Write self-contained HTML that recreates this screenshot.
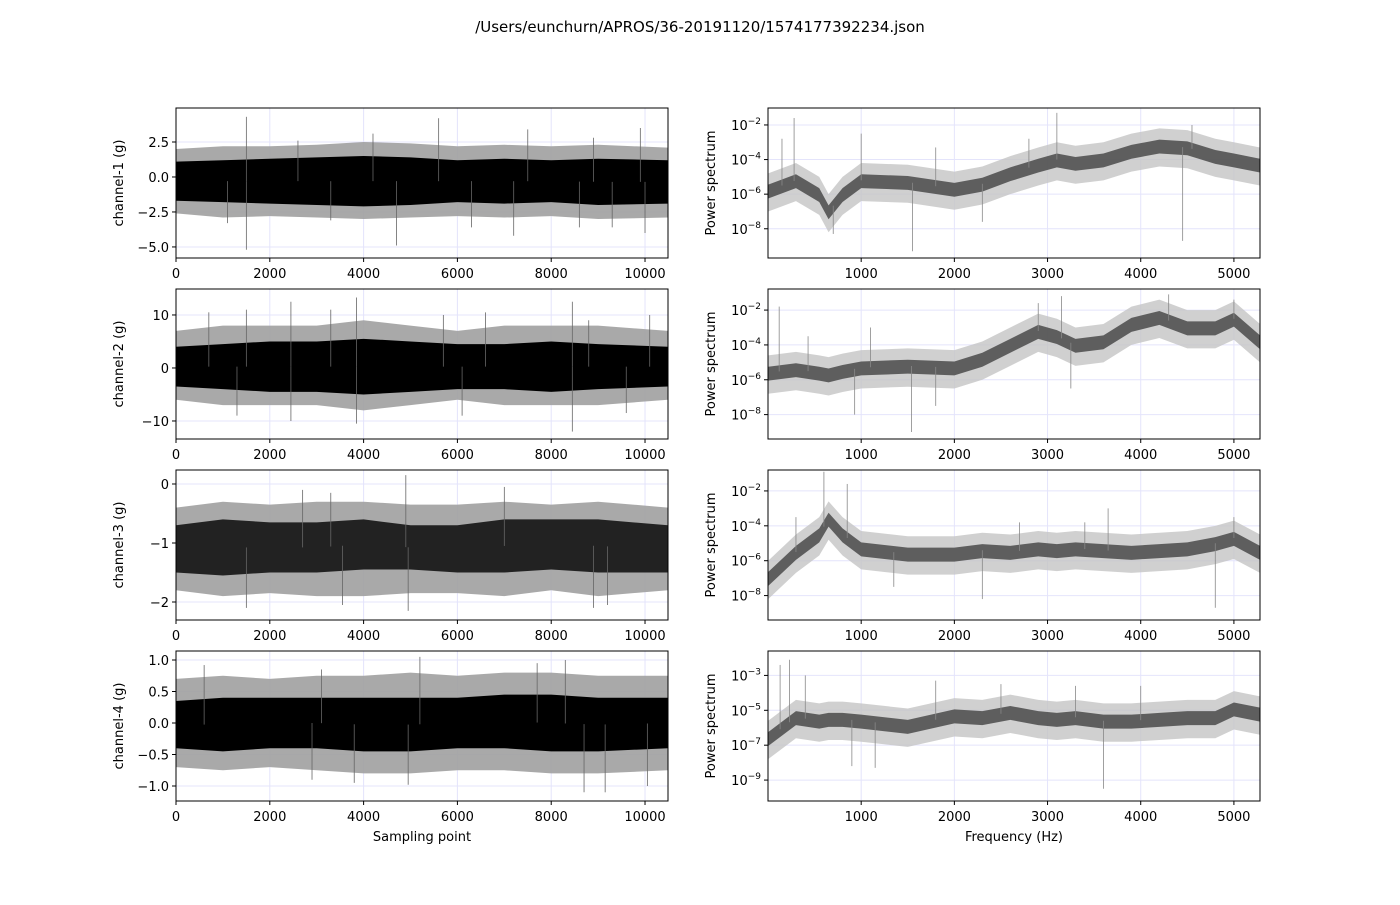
<!DOCTYPE html>
<html><head><meta charset="utf-8"><style>
body{margin:0;background:#fff;font-family:"Liberation Sans","DejaVu Sans",sans-serif}
svg text{font-family:"DejaVu Sans","Liberation Sans",sans-serif;font-size:13px;fill:#000}
</style></head><body>
<svg id="fig" width="1400" height="900" xmlns="http://www.w3.org/2000/svg">
<rect width="1400" height="900" fill="#fff"/>
<text x="700" y="32" text-anchor="middle" style="font-size:15px">/Users/eunchurn/APROS/36-20191120/1574177392234.json</text>
</svg>
<script>
// ---- time-domain data (envelopes) ----
const tX = [0,1000,2000,3000,4000,5000,6000,7000,8000,9000,10490];
const ch1OutHi = [2.0,2.2,2.2,2.3,2.5,2.4,2.2,2.3,2.2,2.3,2.1];
const ch1OutLo = [-2.6,-2.9,-2.8,-2.9,-3.0,-2.9,-2.8,-2.9,-2.8,-3.0,-2.9];
const ch1InHi = [1.1,1.2,1.3,1.4,1.5,1.4,1.2,1.3,1.2,1.3,1.2];
const ch1InLo = [-1.7,-1.8,-1.9,-2.0,-2.1,-2.0,-1.8,-1.9,-1.8,-2.0,-1.9];
const ch1Spikes = [[1500,4.3],[1500,-5.2],[4700,-4.9],[5600,4.2],[7500,3.4],[9900,3.5],[4200,3.1],[7200,-4.2],[10000,-4.0],[1100,-3.3],[2600,2.6],[3300,-3.1],[6300,-3.6],[8600,-3.6],[9300,-3.6],[8900,2.8]];
const ch2OutHi = [7,8,8,8,9,8,7,8,8,8,7];
const ch2OutLo = [-6,-7,-7,-7,-8,-7,-6,-7,-7,-7,-6];
const ch2InHi = [4,4.5,5,5,5.5,5,4.5,4.5,5,4.5,4];
const ch2InLo = [-3.5,-4,-4.5,-4.5,-5,-4.5,-4,-4,-4.5,-4,-3.5];
const ch2Spikes = [[3850,13.3],[3850,-10.5],[8450,12.5],[8450,-12],[2450,12.5],[2450,-10],[1500,11],[5700,10],[8800,9],[700,10.5],[3300,11],[6600,10.5],[10100,10],[1300,-9],[6100,-9],[9600,-8.5]];
const ch3OutHi = [-0.4,-0.3,-0.35,-0.3,-0.3,-0.35,-0.35,-0.3,-0.35,-0.3,-0.4];
const ch3OutLo = [-1.8,-1.9,-1.85,-1.9,-1.9,-1.85,-1.85,-1.9,-1.8,-1.9,-1.8];
const ch3InHi = [-0.7,-0.6,-0.65,-0.65,-0.6,-0.7,-0.7,-0.6,-0.6,-0.6,-0.7];
const ch3InLo = [-1.5,-1.55,-1.5,-1.5,-1.45,-1.45,-1.5,-1.5,-1.45,-1.5,-1.5];
const ch3Spikes = [[4900,0.15],[1500,-2.1],[3550,-2.05],[4950,-2.15],[8900,-2.1],[9200,-2.05],[2700,-0.1],[7000,-0.05],[3300,-0.15]];
const ch4OutHi = [0.7,0.75,0.7,0.75,0.75,0.8,0.75,0.8,0.8,0.75,0.75];
const ch4OutLo = [-0.7,-0.75,-0.7,-0.75,-0.8,-0.8,-0.75,-0.75,-0.8,-0.8,-0.75];
const ch4InHi = [0.35,0.4,0.4,0.4,0.4,0.4,0.4,0.45,0.45,0.4,0.4];
const ch4InLo = [-0.4,-0.45,-0.4,-0.4,-0.45,-0.45,-0.4,-0.4,-0.45,-0.45,-0.4];
const ch4Spikes = [[5200,1.05],[8300,1.0],[8700,-1.1],[9150,-1.1],[4950,-0.98],[10050,-1.0],[600,0.92],[3100,0.85],[7700,0.95],[2900,-0.9],[3800,-0.95]];
// ---- spectra data (log10 power) ----
const fX = [2,300,550,650,800,1000,1500,2000,2300,2600,2900,3100,3300,3600,3900,4200,4500,4800,5000,5280];
const s1Mid = [-5.8,-5.2,-6.0,-7.0,-6.0,-5.2,-5.3,-5.7,-5.4,-4.8,-4.3,-4.0,-4.2,-4.0,-3.5,-3.2,-3.3,-3.8,-4.0,-4.3];
const s2Mid = [-5.6,-5.4,-5.6,-5.7,-5.5,-5.3,-5.2,-5.3,-4.8,-4.0,-3.2,-3.5,-4.0,-3.8,-2.8,-2.4,-3.0,-3.0,-2.5,-3.8];
const s3Mid = [-7.0,-5.5,-4.5,-3.6,-4.5,-5.3,-5.6,-5.6,-5.4,-5.5,-5.3,-5.4,-5.3,-5.4,-5.5,-5.4,-5.3,-5.0,-4.7,-5.5];
const s4Mid = [-6.6,-5.4,-5.6,-5.5,-5.5,-5.6,-5.9,-5.3,-5.4,-5.1,-5.4,-5.5,-5.4,-5.6,-5.6,-5.5,-5.4,-5.4,-4.9,-5.2];
const s1Spikes = [[280,-1.6],[1000,-2.5],[3100,-1.3],[4550,-2.0],[700,-8.3],[1550,-9.3],[4450,-8.7],[150,-2.8],[1800,-3.3],[2300,-7.6],[2800,-2.8]];
const s2Spikes = [[120,-1.8],[430,-3.5],[3150,-1.2],[4300,-1.1],[1540,-9.0],[1800,-7.5],[3250,-6.5],[1100,-3],[2900,-1.6],[5000,-1.4],[930,-8]];
const s3Spikes = [[600,-0.9],[850,-1.6],[1350,-7.5],[3400,-3.8],[3650,-3.0],[4800,-8.7],[2300,-8.2],[300,-3.5],[2700,-3.8],[5000,-3.5]];
const s4Spikes = [[130,-2.4],[230,-2.1],[1800,-3.3],[3600,-9.5],[4000,-3.6],[1150,-8.3],[400,-3],[2500,-3.5],[3300,-3.6],[900,-8.2]];

const NS='http://www.w3.org/2000/svg';
const svg=document.getElementById('fig');
function el(t,a,p){const e=document.createElementNS(NS,t);for(const k in a)e.setAttribute(k,a[k]);(p||svg).appendChild(e);return e;}
const rows=[108,289,470,651], H=150;
const L={x0:176,x1:668,d0:0,d1:10490}, R={x0:768,x1:1260,d0:0,d1:5280};
function sx(ax,v){return ax.x0+(v-ax.d0)/(ax.d1-ax.d0)*(ax.x1-ax.x0);}
function band(g,ax,xs,hi,lo,ys,fill,op,name){
  let pts=[];
  for(let i=0;i<xs.length;i++)pts.push(sx(ax,xs[i])+','+ys(hi[i]));
  for(let i=xs.length-1;i>=0;i--)pts.push(sx(ax,xs[i])+','+ys(lo[i]));
  const p=el('polygon',{points:pts.join(' '),fill:fill,'fill-opacity':op},g);
  
  
}
function spikes(g,ax,sp,ys,base,col){
  sp.forEach(s=>{const x=sx(ax,s[0]);
    const l=el('line',{x1:x,x2:x,y1:ys(base(s[0])),y2:ys(s[1]),stroke:col,'stroke-width':0.8},g);
    
    
  });
}
function interp(xs,ys,x){for(let i=0;i<xs.length-1;i++)if(x<=xs[i+1]){const t=(x-xs[i])/(xs[i+1]-xs[i]);return ys[i]+t*(ys[i+1]-ys[i]);}return ys[ys.length-1];}
function axesFrame(ax,top,ytickVals,ytickFn,ys,xticks,xlabelFn,ylabel,xlabel,name){
  const g=el('g',{});
  
  
  const cid='c'+name;
  const cp=el('clipPath',{id:cid},g);el('rect',{x:ax.x0,y:top,width:ax.x1-ax.x0,height:H},cp);
  const inner=el('g',{'clip-path':'url(#'+cid+')'},g);
  xticks.forEach(v=>{const x=sx(ax,v);el('line',{x1:x,x2:x,y1:top,y2:top+H,stroke:'#e4e4fb','stroke-width':1},inner);
    el('line',{x1:x,x2:x,y1:top+H,y2:top+H+4,stroke:'#000'},g);
    const t=el('text',{x:x,y:top+H+20,'text-anchor':'middle'},g);t.textContent=xlabelFn(v);
    
    });
  ytickVals.forEach(v=>{const y=ys(v);el('line',{x1:ax.x0,x2:ax.x1,y1:y,y2:y,stroke:'#e4e4fb','stroke-width':1},inner);
    el('line',{x1:ax.x0-4,x2:ax.x0,y1:y,y2:y,stroke:'#000'},g);
    const t=el('text',{x:ax.x0-7,y:y+5,'text-anchor':'end'},g);ytickFn(t,v);
    
    });
  const yl=el('text',{x:0,y:0,'text-anchor':'middle',transform:'translate('+(ax.x0-53)+','+(top+H/2)+') rotate(-90)'},g);yl.textContent=ylabel;
  
  
  if(xlabel){const xl=el('text',{x:(ax.x0+ax.x1)/2,y:top+H+40,'text-anchor':'middle'},g);xl.textContent=xlabel;
    
    }
  return {g,inner};
}
function border(g,ax,top){el('rect',{x:ax.x0,y:top,width:ax.x1-ax.x0,height:H,fill:'none',stroke:'#000','stroke-width':1},g);}
const timeSets=[
 {hi:ch1OutHi,lo:ch1OutLo,ih:ch1InHi,il:ch1InLo,sp:ch1Spikes,ymin:-5.79,ymax:4.93,ticks:[-5,-2.5,0,2.5],fmt:v=>v.toFixed(1).replace('-','−')},
 {hi:ch2OutHi,lo:ch2OutLo,ih:ch2InHi,il:ch2InLo,sp:ch2Spikes,ymin:-13.4,ymax:14.9,ticks:[-10,0,10],fmt:v=>String(v).replace('-','−')},
 {hi:ch3OutHi,lo:ch3OutLo,ih:ch3InHi,il:ch3InLo,sp:ch3Spikes,ymin:-2.305,ymax:0.237,ticks:[-2,-1,0],fmt:v=>String(v).replace('-','−')},
 {hi:ch4OutHi,lo:ch4OutLo,ih:ch4InHi,il:ch4InLo,sp:ch4Spikes,ymin:-1.238,ymax:1.143,ticks:[-1,-0.5,0,0.5,1],fmt:v=>v.toFixed(1).replace('-','−')}];
const specSets=[
 {mid:s1Mid,sp:s1Spikes,lmin:-9.69,lmax:-1.02,ticks:[-8,-6,-4,-2]},
 {mid:s2Mid,sp:s2Spikes,lmin:-9.4,lmax:-0.79,ticks:[-8,-6,-4,-2]},
 {mid:s3Mid,sp:s3Spikes,lmin:-9.4,lmax:-0.8,ticks:[-8,-6,-4,-2]},
 {mid:s4Mid,sp:s4Spikes,lmin:-10.2,lmax:-1.6,ticks:[-9,-7,-5,-3]}];
rows.forEach((top,i)=>{
  const d=timeSets[i];
  const ys=v=>top+H-(v-d.ymin)/(d.ymax-d.ymin)*H;
  const a=axesFrame(L,top,d.ticks,(t,v)=>{t.textContent=d.fmt(v);},ys,[0,2000,4000,6000,8000,10000],v=>String(v),'channel-'+(i+1)+' (g)',i==3?'Sampling point':null,'time-panel-'+(i+1));
  band(a.inner,L,tX,d.hi,d.lo,ys,'#a0a0a0',0.9,'signal-envelope');
  band(a.inner,L,tX,d.ih,d.il,ys,i==2?'#222':'#000',1,'signal-core');
  const mid=x=>(interp(tX,d.ih,x)+interp(tX,d.il,x))/2;
  spikes(a.inner,L,d.sp,ys,mid,'#666');
  border(a.g,L,top);
  const s=specSets[i];
  const yl=v=>top+H-(v-s.lmin)/(s.lmax-s.lmin)*H;
  const b=axesFrame(R,top,s.ticks,(t,v)=>{t.textContent='10';const ts=el('tspan',{dy:-6,style:'font-size:9px'},t);ts.textContent=String(v).replace('-','−');},yl,[1000,2000,3000,4000,5000],v=>String(v),'Power spectrum',i==3?'Frequency (Hz)':null,'spectrum-panel-'+(i+1));
  band(b.inner,R,fX,s.mid.map(v=>v+1.0),s.mid.map(v=>v-1.2),yl,'#c4c4c4',0.8,'spectrum-envelope');
  band(b.inner,R,fX,s.mid.map(v=>v+0.35),s.mid.map(v=>v-0.45),yl,'#4a4a4a',0.85,'spectrum-core');
  spikes(b.inner,R,s.sp,yl,x=>interp(fX,s.mid,x),'#888');
  border(b.g,R,top);
});
</script>
</body></html>
